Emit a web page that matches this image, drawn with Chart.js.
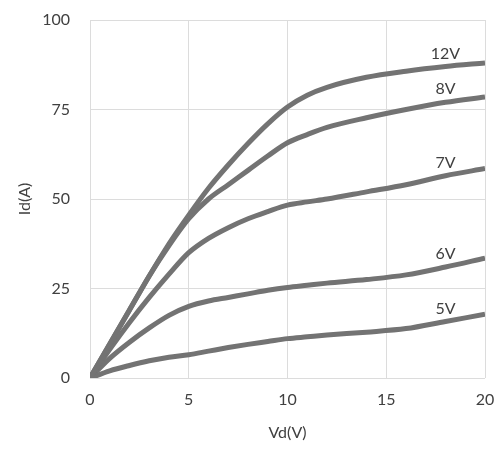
<!DOCTYPE html>
<html>
<head>
<meta charset="utf-8">
<script src="https://cdn.jsdelivr.net/npm/chart.js@4/dist/chart.umd.min.js"></script>
<style>
  html, body { margin: 0; padding: 0; background: #fff; }
  #wrap { width: 500px; height: 449px; }
</style>
</head>
<body>
<div id="wrap"><canvas id="ivChart"></canvas></div>
<script>
const vd = [0, 1, 2, 3, 4, 5, 6, 7, 8, 9, 10, 11, 12, 14, 16, 18, 20];
const gateLabels = ["12V", "8V", "7V", "6V", "5V"];
const id12 = [0, 9.5, 19, 28.5, 37.5, 45.5, 53, 59.5, 65.5, 71, 75.7, 79, 81.2, 84, 85.7, 87, 88];
const id8 = [0, 9.5, 19, 28.5, 37, 44.5, 50, 54, 58, 62, 65.7, 68, 70, 72.7, 75, 77, 78.5];
const id7 = [0, 8, 15.5, 22.5, 29, 35, 39, 42, 44.5, 46.5, 48.3, 49.2, 50, 52, 54, 56.5, 58.5];
const id6 = [0, 5.5, 10, 14, 17.5, 20, 21.5, 22.5, 23.5, 24.5, 25.3, 25.9, 26.5, 27.5, 28.8, 31, 33.5];
const id5 = [0, 2, 3.5, 4.8, 5.8, 6.5, 7.5, 8.5, 9.4, 10.2, 11, 11.5, 12, 12.8, 13.8, 15.8, 17.8];
const xTicks = [0, 5, 10, 15, 20];
const yTicks = [0, 25, 50, 75, 100];

const series = [id12, id8, id7, id6, id5];
const labelIndex = vd.indexOf(18);

const curveLabels = {
  id: "curveLabels",
  afterDatasetsDraw(chart) {
    const ctx = chart.ctx;
    ctx.save();
    ctx.font = "16px Lato";
    ctx.fillStyle = "#404040";
    ctx.textAlign = "center";
    ctx.textBaseline = "bottom";
    chart.data.datasets.forEach((ds, i) => {
      const pt = chart.getDatasetMeta(i).data[labelIndex];
      ctx.fillText(ds.label, pt.x, pt.y - 5);
    });
    ctx.restore();
  },
};

new Chart(document.getElementById("ivChart"), {
  type: "line",
  data: {
    datasets: series.map((ys, i) => ({
      label: gateLabels[i],
      data: vd.map((x, j) => ({ x: x, y: ys[j] })),
      borderColor: "#737373",
      borderWidth: 5,
      pointRadius: 0,
      cubicInterpolationMode: "monotone",
      fill: false,
    })),
  },
  options: {
    responsive: true,
    maintainAspectRatio: false,
    animation: false,
    layout: { padding: { top: 20, right: 15, left: 0, bottom: 0 } },
    plugins: { legend: { display: false }, tooltip: { enabled: false } },
    scales: {
      x: {
        type: "linear",
        min: 0,
        max: 20,
        afterBuildTicks: (s) => { s.ticks = xTicks.map((v) => ({ value: v })); },
        afterFit: (s) => { s.height = 71; s.paddingLeft = 0; s.paddingRight = 0; },
        grid: { color: "#dcdcdc", drawTicks: false },
        border: { display: false },
        ticks: { color: "#404040", font: { family: "Lato", size: 16 }, padding: 12 },
        title: { display: true, text: "Vd(V)", color: "#404040", font: { family: "Lato", size: 16 }, padding: { top: 0, bottom: 7 } },
      },
      y: {
        min: 0,
        max: 100,
        afterBuildTicks: (s) => { s.ticks = yTicks.map((v) => ({ value: v })); },
        afterFit: (s) => { s.width = 90; s.paddingTop = 0; s.paddingBottom = 0; },
        grid: { color: "#dcdcdc", drawTicks: false },
        border: { display: false },
        ticks: { color: "#404040", font: { family: "Lato", size: 16 }, padding: 20 },
        title: { display: true, text: "Id(A)", color: "#404040", font: { family: "Lato", size: 16 }, padding: { top: 15 } },
      },
    },
  },
  plugins: [curveLabels],
});
</script>
</body>
</html>
